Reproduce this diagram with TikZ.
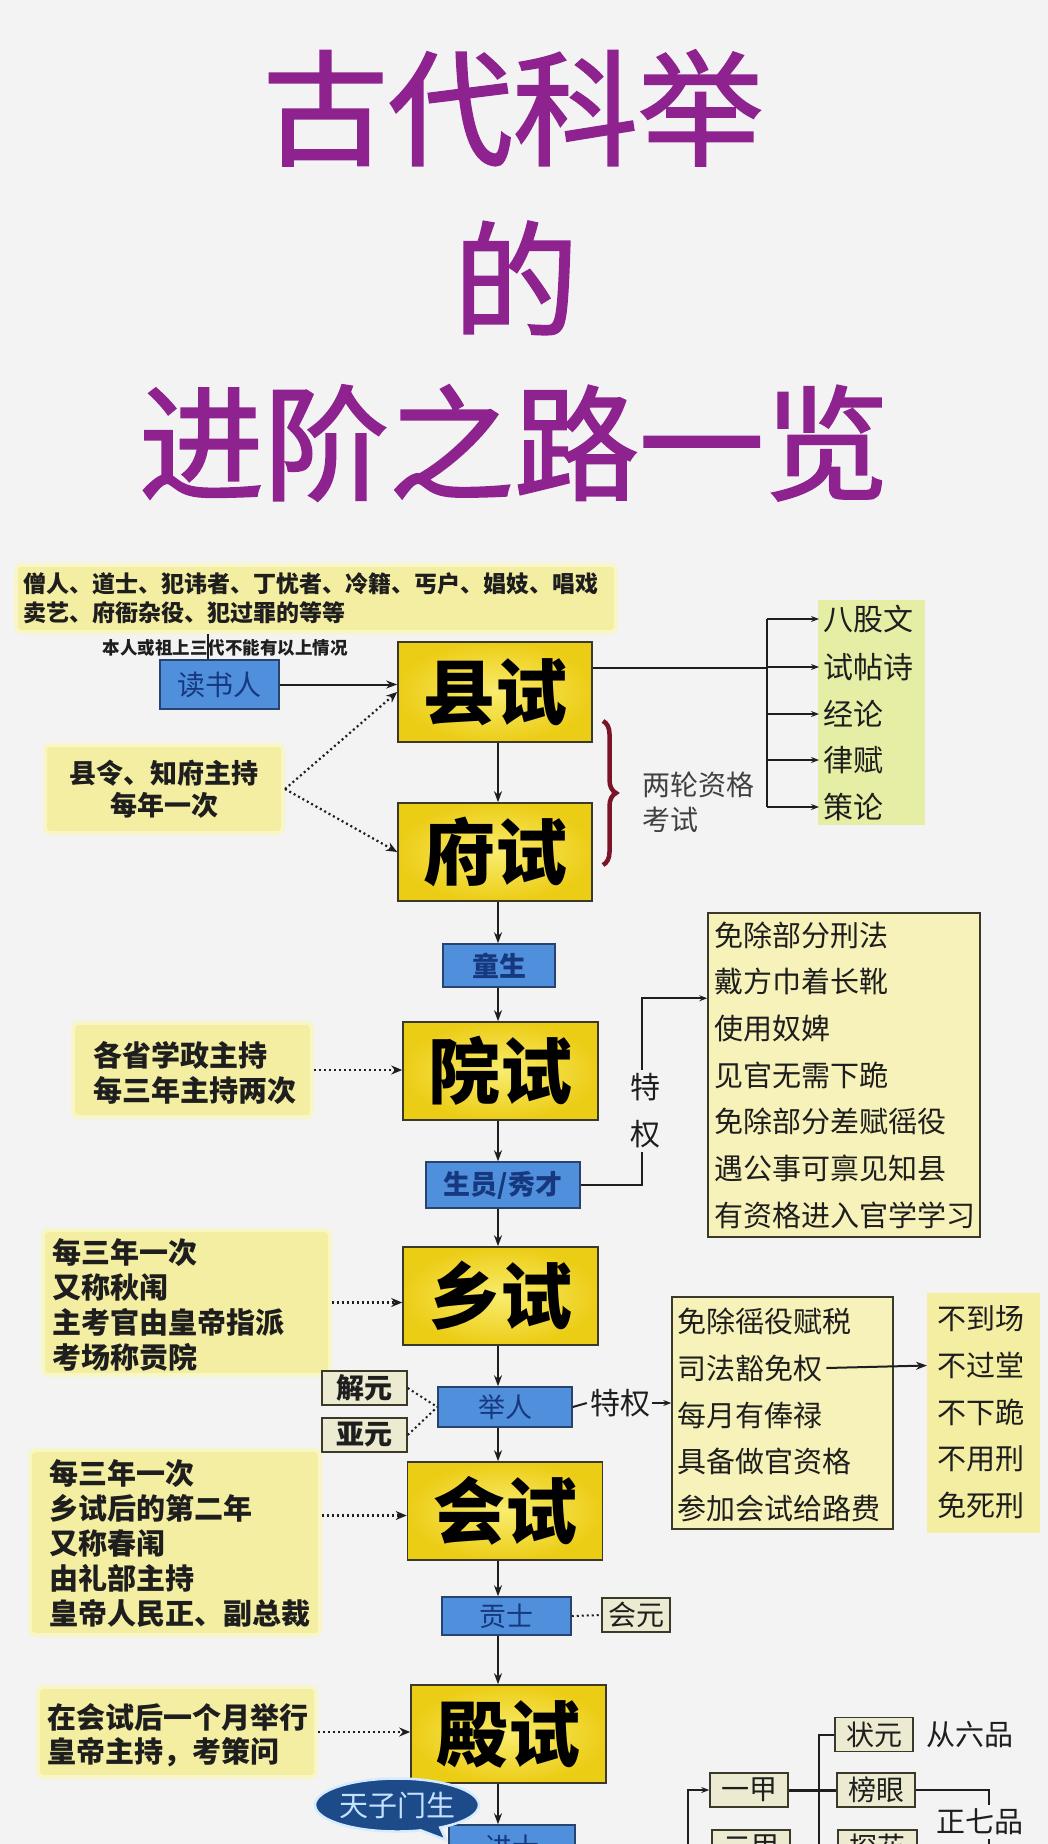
\documentclass[tikz,border=0pt]{standalone}
\usepackage{fontspec}
\setmainfont{Noto Sans CJK SC}
\newfontfamily\titlefont{Noto Sans CJK SC}[FakeBold=1.6]
\usetikzlibrary{arrows.meta,decorations.pathreplacing,shapes.callouts,calc}
\definecolor{bgc}{HTML}{F3F3F3}
\definecolor{titlec}{HTML}{8E2390}
\definecolor{yelin}{HTML}{F9EC6E}
\definecolor{yelout}{HTML}{ECCD16}
\definecolor{boxline}{HTML}{3B3A2A}
\definecolor{bluef}{HTML}{4F8FDB}
\definecolor{bluetext}{HTML}{16387E}
\definecolor{blueline}{HTML}{26446E}
\definecolor{notec}{HTML}{F3EEA2}
\definecolor{privc}{HTML}{F6F2B9}
\definecolor{smallc}{HTML}{ECEBD2}
\definecolor{greenc}{HTML}{E5EEA4}
\definecolor{bracec}{HTML}{7B1428}
\definecolor{bubblec}{HTML}{1D4A88}
\definecolor{bubbletext}{HTML}{C4E2FF}
\definecolor{inkc}{HTML}{1E1E1E}
\begin{document}
\begin{tikzpicture}[x=1pt,y=-1pt,
 titletext/.style={inner sep=0pt,text=titlec,font=\titlefont\fontsize{125}{125}\selectfont},
 exam/.style={draw=boxline,line width=1.6pt,inner color=yelin,outer color=yelout,minimum width=195pt,minimum height=98pt,inner sep=0pt,text=black,font=\bfseries\fontsize{72}{72}\selectfont},
 bluebox/.style={draw=blueline,line width=1.5pt,fill=bluef,inner sep=0pt,text=bluetext,font=\fontsize{27}{27}\selectfont},
 notebg/.style={fill=notec,draw=notec!60!white,line width=4pt,rounded corners=5pt,inner sep=0pt},
 notetext/.style={inner sep=0pt,align=left,text=inkc,font=\bfseries\fontsize{29}{35}\selectfont},
 privbg/.style={fill=privc,draw=boxline,line width=1.5pt,inner sep=0pt},
 listtext/.style={inner sep=0pt,text=inkc,font=\fontsize{29}{29}\selectfont},
 smallbox/.style={fill=smallc,draw=boxline,line width=1.5pt,inner sep=0pt,minimum height=34pt,text=inkc,font=\fontsize{28}{28}\selectfont},
 flow/.style={line width=2pt,draw=inkc,-{Stealth[length=11pt,width=8pt]}},
 dotarr/.style={line width=2.2pt,draw=inkc,dash pattern=on 2pt off 3pt,-{Stealth[length=11pt,width=9pt]}},
 dotline/.style={line width=2pt,draw=inkc,dash pattern=on 2pt off 3pt},
 smallarr/.style={line width=2pt,draw=inkc,-{Stealth[length=8pt,width=6pt]}},
 plainln/.style={line width=2pt,draw=inkc},
]
\fill[bgc] (0,0) rectangle (1048,1844);
\useasboundingbox (0,0) rectangle (1048,1844);

% title
\node[titletext] (t1) at (513,108) {古代科举};
\node[titletext] (t2) at (516,278) {的};
\node[titletext] (t3) at (514,443) {进阶之路一览};

% top band
\node[notebg,minimum width=600pt,minimum height=67pt,anchor=north west] (bandbg) at (14,563) {};
\node[notetext,anchor=west,font=\bfseries\fontsize{23}{29}\selectfont] (band) at (23,598.5) {僧人、道士、犯讳者、丁忧者、冷籍、丐户、娼妓、唱戏\\卖艺、府衙杂役、犯过罪的等等};
\node[inner sep=0pt,text=inkc,font=\bfseries\fontsize{17.5}{17.5}\selectfont] (cond) at (225,648) {本人或祖上三代不能有以上情况};

% main exam boxes
\node[exam,minimum width=194pt,minimum height=100pt] (xs) at (495,692) {县试};
\node[exam,minimum width=194pt] (fs) at (495,852) {府试};
\node[exam] (ys) at (500.5,1071) {院试};
\node[exam] (xgs) at (500.5,1296) {乡试};
\node[exam] (hs) at (505,1511) {会试};
\node[exam] (dss) at (508.5,1734) {殿试};

% blue boxes
\node[bluebox,minimum width=119pt,minimum height=49pt,font=\fontsize{28}{28}\selectfont] (dsr) at (219.5,684.5) {读书人};
\node[bluebox,minimum width=112pt,minimum height=43pt,font=\bfseries\fontsize{27}{27}\selectfont] (tong) at (499,965.5) {童生};
\node[bluebox,minimum width=154pt,minimum height=46pt,font=\bfseries\fontsize{27}{27}\selectfont] (sy) at (503,1185) {生员/秀才};
\node[bluebox,minimum width=134pt,minimum height=40pt] (jr) at (505,1407) {举人};
\node[bluebox,minimum width=129pt,minimum height=38pt] (gs) at (506.5,1616) {贡士};
\node[bluebox,minimum width=126pt,minimum height=45pt] (js) at (512,1847.5) {进士};

% connector reader -> county exam
\coordinate (vx) at (208,0);
\draw[plainln] (bandbg.south -| vx) -- (dsr.north -| vx);
\draw[flow] (dsr.east) -- (dsr.east -| xs.west);

% main vertical flow
\coordinate (ax) at (498,0);
\draw[flow] (xs.south -| ax) -- (fs.north -| ax);
\draw[flow] (fs.south -| ax) -- (tong.north -| ax);
\draw[flow] (tong.south -| ax) -- (ys.north -| ax);
\draw[flow] (ys.south -| ax) -- (sy.north -| ax);
\draw[flow] (sy.south -| ax) -- (xgs.north -| ax);
\draw[flow] (xgs.south -| ax) -- (jr.north -| ax);
\draw[flow] (jr.south -| ax) -- (hs.north -| ax);
\draw[flow] (hs.south -| ax) -- (gs.north -| ax);
\draw[flow] (gs.south -| ax) -- (dss.north -| ax);
\draw[flow] (dss.south -| ax) -- (js.north -| ax);

% note 1
\node[notebg,minimum width=238pt,minimum height=88pt] (n1bg) at (164,789) {};
\node[notetext,align=center,font=\bfseries\fontsize{27}{32}\selectfont] (n1) at (164,789) {县令、知府主持\\每年一次};
\draw[dotarr] (n1bg.east) -- (xs.west);
\draw[dotarr] (n1bg.east) -- (fs.west);

% brace and label
\draw[bracec,line width=4.5pt,decorate,decoration={brace,amplitude=13pt}] (603,721) -- (603,865);
\node[inner sep=0pt,align=left,text=inkc!85!white,font=\fontsize{28}{35}\selectfont,anchor=west] (lz) at (642,802.5) {两轮资格\\考试};

% subject list
\node[fill=greenc,inner sep=0pt,minimum width=107pt,minimum height=225pt] (lbg) at (871.5,712.5) {};
\node[listtext,anchor=west,font=\fontsize{30}{30}\selectfont] (l1) at (823,619) {八股文};
\node[listtext,anchor=west,font=\fontsize{30}{30}\selectfont] (l2) at (823,667) {试帖诗};
\node[listtext,anchor=west,font=\fontsize{30}{30}\selectfont] (l3) at (823,714) {经论};
\node[listtext,anchor=west,font=\fontsize{30}{30}\selectfont] (l4) at (823,760) {律赋};
\node[listtext,anchor=west,font=\fontsize{30}{30}\selectfont] (l5) at (823,807) {策论};
\coordinate (vb) at (767,668);
\draw[plainln] ([yshift=24pt]xs.east) -- (vb);
\draw[plainln] (vb |- l1.west) -- (vb |- l5.west);
\foreach \i in {1,...,5} \draw[smallarr] (vb |- l\i.west) -- ([xshift=-4pt]l\i.west);

% note 2
\node[notebg,minimum width=239pt,minimum height=94pt] (n2bg) at (192.5,1070) {};
\node[notetext,anchor=west] (n2) at (93,1072.5) {各省学政主持\\每三年主持两次};
\draw[dotarr] (n2bg.east) -- (n2bg.east -| ys.west);

% privileges of xiucai
\node[privbg,minimum width=272pt,minimum height=324pt] (pb1bg) at (844,1075) {};
\node[listtext,anchor=west,align=left,font=\fontsize{29}{46.7}\selectfont] (pb1) at (714,1075) {免除部分刑法\\戴方巾着长靴\\使用奴婢\\见官无需下跪\\免除部分差赋徭役\\遇公事可禀见知县\\有资格进入官学学习};
\coordinate (vx2) at (642,0);
\draw[smallarr] (sy.east) -- (sy.east -| vx2) |- ([yshift=-86pt]pb1bg.north west);
\node[fill=bgc,inner xsep=3pt,inner ysep=4pt,align=center,text=inkc,font=\fontsize{30}{47}\selectfont] (tq1) at (645,1111) {特\\权};

% note 3
\node[notebg,minimum width=287pt,minimum height=145pt] (n3bg) at (186.5,1302.5) {};
\node[notetext,anchor=west] (n3) at (52,1304.5) {每三年一次\\又称秋闱\\主考官由皇帝指派\\考场称贡院};
\draw[dotarr] (n3bg.east) -- (n3bg.east -| xgs.west);

% jieyuan, yayuan
\node[smallbox,minimum width=85pt,font=\bfseries\fontsize{28}{28}\selectfont] (jy) at (364.5,1388) {解元};
\node[smallbox,minimum width=85pt,font=\bfseries\fontsize{28}{28}\selectfont] (yy) at (364.5,1435) {亚元};
\draw[dotline] (jy.east) -- (jr.west);
\draw[dotline] (yy.east) -- (jr.west);

% privileges of juren
\node[privbg,minimum width=221pt,minimum height=232pt] (pb2bg) at (782.5,1413) {};
\node[listtext,anchor=west] (p1) at (677,1321) {免除徭役赋税};
\node[listtext,anchor=west] (p2) at (677,1368) {司法豁免权};
\node[listtext,anchor=west] (p3) at (677,1415) {每月有俸禄};
\node[listtext,anchor=west] (p4) at (677,1461) {具备做官资格};
\node[listtext,anchor=west] (p5) at (677,1508) {参加会试给路费};
\node[inner sep=0pt,text=inkc,font=\fontsize{30}{30}\selectfont] (tq2) at (620,1403) {特权};
\draw[plainln] (jr.east) -- ([xshift=-3pt]tq2.west);
\draw[smallarr] ([xshift=2pt]tq2.east) -- (tq2.east -| pb2bg.west);

% immunity list
\node[fill=notec,inner sep=0pt,minimum width=113pt,minimum height=240pt] (rcbg) at (983.5,1413) {};
\node[listtext,anchor=west] (r1) at (937,1319) {不到场};
\node[listtext,anchor=west] (r2) at (937,1365.5) {不过堂};
\node[listtext,anchor=west] (r3) at (937,1412) {不下跪};
\node[listtext,anchor=west] (r4) at (937,1458.5) {不用刑};
\node[listtext,anchor=west] (r5) at (937,1505) {免死刑};
\draw[flow] ([xshift=4pt]p2.east) -- ([xshift=-10pt]r2.west);

% note 4
\node[notebg,minimum width=290pt,minimum height=185pt] (n4bg) at (175,1542.5) {};
\node[notetext,anchor=west] (n4) at (49,1543) {每三年一次\\乡试后的第二年\\又称春闱\\由礼部主持\\皇帝人民正、副总裁};
\draw[dotarr] ([yshift=27pt]n4bg.east) -- ([yshift=27pt]n4bg.east -| hs.west);

% huiyuan
\node[smallbox,minimum width=68pt] (hy) at (636,1615) {会元};
\draw[dotline] (gs.east) -- (hy.west);

% note 5
\node[notebg,minimum width=278pt,minimum height=90pt] (n5bg) at (177,1732) {};
\node[notetext,anchor=west,font=\bfseries\fontsize{29}{34}\selectfont] (n5) at (47,1735) {在会试后一个月举行\\皇帝主持，考策问};
\draw[dotarr] (n5bg.east) -- (n5bg.east -| dss.west);

% bubble
\node[ellipse callout,fill=bubblec,draw=bubbletext!70!white,line width=2.5pt,minimum width=138pt,minimum height=53pt,callout absolute pointer={(446,1840)},inner sep=0pt,text=bubbletext,font=\fontsize{29}{29}\selectfont] (bub) at (397,1805) {天子门生};

% ranking tree
\node[smallbox,minimum width=78pt] (zy) at (874,1734.5) {状元};
\node[smallbox,minimum width=78pt] (yj) at (749,1790) {一甲};
\node[smallbox,minimum width=78pt] (by) at (876,1790) {榜眼};
\node[smallbox,minimum width=78pt] (ej) at (751,1847) {二甲};
\node[smallbox,minimum width=79pt] (th) at (877.5,1847) {探花};
\node[listtext,font=\fontsize{29}{29}\selectfont] (c6) at (969.5,1735) {从六品};
\coordinate (vl) at (688,1870);
\coordinate (vr) at (819,1870);
\coordinate (vq) at (989,1870);
\draw[smallarr] (vl) |- (yj.west);
\draw[plainln] (vl |- ej.west) -- (ej.west);
\draw[plainln] (vr) |- (zy.west);
\draw[plainln] (vr |- th.west) -- (th.west);
\draw[line width=3pt,draw=inkc] (yj.east) -- (by.west);
\draw[plainln] (by.east) -| (vq);
\node[fill=bgc,inner xsep=2pt,inner ysep=4pt,text=inkc,font=\fontsize{29}{29}\selectfont] (z7) at (980,1822) {正七品};
\end{tikzpicture}
\end{document}
